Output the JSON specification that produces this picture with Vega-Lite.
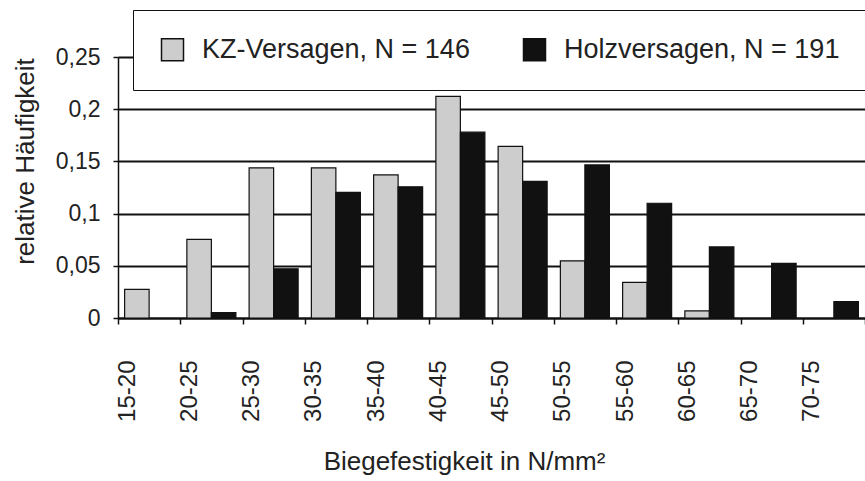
{
  "$schema": "https://vega.github.io/schema/vega-lite/v6.json",
  "width": 747,
  "height": 261,
  "autosize": "none",
  "padding": {"left": 118, "top": 57, "right": 0, "bottom": 163},
  "background": "white",
  "config": {"font": "Liberation Sans", "view": {"stroke": null}},
  "data": {
    "values": [
      {"klasse": "15-20", "serie": "KZ-Versagen, N = 146", "anteil": 0.0274},
      {"klasse": "20-25", "serie": "KZ-Versagen, N = 146", "anteil": 0.0753},
      {"klasse": "20-25", "serie": "Holzversagen, N = 191", "anteil": 0.0052},
      {"klasse": "25-30", "serie": "KZ-Versagen, N = 146", "anteil": 0.1438},
      {"klasse": "25-30", "serie": "Holzversagen, N = 191", "anteil": 0.0471},
      {"klasse": "30-35", "serie": "KZ-Versagen, N = 146", "anteil": 0.1438},
      {"klasse": "30-35", "serie": "Holzversagen, N = 191", "anteil": 0.1204},
      {"klasse": "35-40", "serie": "KZ-Versagen, N = 146", "anteil": 0.137},
      {"klasse": "35-40", "serie": "Holzversagen, N = 191", "anteil": 0.1257},
      {"klasse": "40-45", "serie": "KZ-Versagen, N = 146", "anteil": 0.2123},
      {"klasse": "40-45", "serie": "Holzversagen, N = 191", "anteil": 0.178},
      {"klasse": "45-50", "serie": "KZ-Versagen, N = 146", "anteil": 0.1644},
      {"klasse": "45-50", "serie": "Holzversagen, N = 191", "anteil": 0.1309},
      {"klasse": "50-55", "serie": "KZ-Versagen, N = 146", "anteil": 0.0548},
      {"klasse": "50-55", "serie": "Holzversagen, N = 191", "anteil": 0.1466},
      {"klasse": "55-60", "serie": "KZ-Versagen, N = 146", "anteil": 0.0342},
      {"klasse": "55-60", "serie": "Holzversagen, N = 191", "anteil": 0.1099},
      {"klasse": "60-65", "serie": "KZ-Versagen, N = 146", "anteil": 0.0068},
      {"klasse": "60-65", "serie": "Holzversagen, N = 191", "anteil": 0.0681},
      {"klasse": "65-70", "serie": "Holzversagen, N = 191", "anteil": 0.0524},
      {"klasse": "70-75", "serie": "Holzversagen, N = 191", "anteil": 0.0157}
    ]
  },
  "mark": {"type": "bar", "stroke": "#111111", "strokeWidth": 1.2},
  "encoding": {
    "x": {
      "field": "klasse",
      "type": "nominal",
      "sort": ["15-20","20-25","25-30","30-35","35-40","40-45","45-50","50-55","55-60","60-65","65-70","70-75"],
      "scale": {"paddingInner": 0, "paddingOuter": 0},
      "axis": {
        "title": "Biegefestigkeit in N/mm²",
        "labelAngle": 270,
        "labelFontSize": 24,
        "labelPadding": 36,
        "labelOffset": -22,
        "labelColor": "#222222",
        "tickBand": "extent",
        "tickSize": 6,
        "tickColor": "#111111",
        "tickWidth": 1.5,
        "domainColor": "#111111",
        "domainWidth": 2,
        "titleFontSize": 26,
        "titleFontWeight": "normal",
        "titleColor": "#222222",
        "titleX": 346,
        "titleY": 151,
        "titleBaseline": "alphabetic",
        "titleAlign": "center"
      }
    },
    "xOffset": {
      "field": "serie",
      "type": "nominal",
      "sort": ["KZ-Versagen, N = 146", "Holzversagen, N = 191"],
      "scale": {"paddingInner": 0, "paddingOuter": 0.27}
    },
    "y": {
      "field": "anteil",
      "type": "quantitative",
      "scale": {"domain": [0, 0.25]},
      "axis": {
        "title": "relative Häufigkeit",
        "values": [0, 0.05, 0.1, 0.15, 0.2, 0.25],
        "labelExpr": "replace(format(datum.value, '~g'), '.', ',')",
        "grid": true,
        "gridColor": "#111111",
        "gridWidth": 2,
        "domainColor": "#111111",
        "domainWidth": 1.5,
        "tickSize": 5,
        "tickColor": "#111111",
        "tickWidth": 1.5,
        "labelFontSize": 23,
        "labelPadding": 13,
        "labelColor": "#222222",
        "titleFontSize": 26,
        "titleFontWeight": "normal",
        "titleColor": "#222222",
        "titleX": -85,
        "titleY": 104,
        "titleAngle": 270,
        "titleBaseline": "alphabetic",
        "titleAlign": "center"
      }
    },
    "color": {
      "field": "serie",
      "type": "nominal",
      "scale": {"domain": ["KZ-Versagen, N = 146", "Holzversagen, N = 191"], "range": ["#cdcdcd", "#111111"]},
      "legend": {
        "orient": "none",
        "legendX": 15,
        "legendY": -47,
        "direction": "horizontal",
        "title": null,
        "fillColor": "white",
        "strokeColor": "#111111",
        "padding": 26,
        "symbolType": "square",
        "symbolSize": 484,
        "symbolStrokeColor": "#111111",
        "symbolStrokeWidth": 1.5,
        "symbolOpacity": 1,
        "labelFontSize": 27,
        "labelColor": "#222222",
        "labelOffset": 16,
        "labelLimit": 400,
        "columnPadding": 50
      }
    }
  }
}
